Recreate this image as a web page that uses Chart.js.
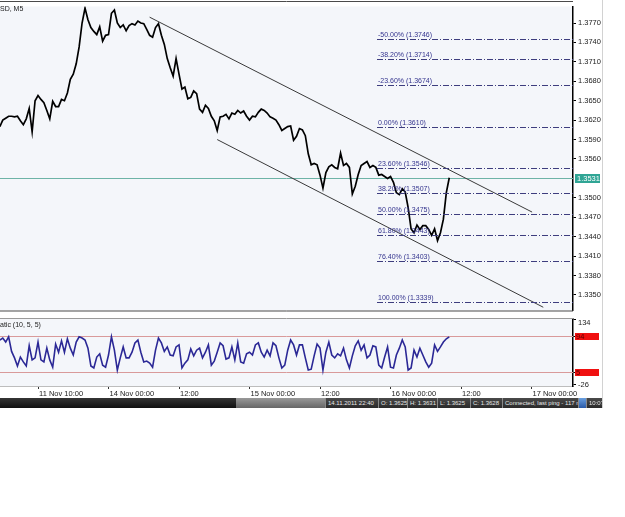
<!DOCTYPE html>
<html>
<head>
<meta charset="utf-8">
<script src="https://cdn.jsdelivr.net/npm/chart.js@4"></script>
<style>
  body { margin: 0; background: #fff; font-family: "Liberation Sans", Arial, sans-serif; }
  #wrap { position: relative; width: 625px; height: 517px; overflow: hidden; }
  #main { position: absolute; left: 0; top: 0; }
  #stoch { position: absolute; left: 0; top: 317px; }
  #edge { position: absolute; left: 602px; top: 0; width: 1px; height: 408px; background: #d2d2d2; }
  .lbl { position: absolute; font-size: 7px; color: #222; white-space: nowrap; }
  #status { position: absolute; left: 0; top: 398px; width: 602px; height: 10px; }
  .seg { position: absolute; top: 0; height: 10px; font-size: 6px; line-height: 10px; color: #e6e6e6;
         white-space: nowrap; overflow: hidden; box-sizing: border-box; padding-left: 2px;
         background: linear-gradient(#4a4a4a, #2a2a2a); border-left: 1px solid #8a8a8a; }
</style>
</head>
<body>
<div id="wrap">
  <canvas id="main" width="625" height="317"></canvas>
  <canvas id="stoch" width="625" height="80"></canvas>
  <div id="edge"></div>
  <div class="lbl" style="left:0;top:5px;">SD, M5</div>
  <div class="lbl" style="left:0;top:321px;">atic (10, 5, 5)</div>
  <div id="status">
    <div class="seg" style="left:0;width:236px;border:none;background:linear-gradient(#353535,#101010);"></div>
    <div class="seg" style="left:236px;width:89px;border:none;background:linear-gradient(#999,#666);"></div>
    <div class="seg" style="left:325px;width:53px;">14.11.2011 22:40</div>
    <div class="seg" style="left:378px;width:29px;">O: 1.3625</div>
    <div class="seg" style="left:407px;width:30px;">H: 1.3631</div>
    <div class="seg" style="left:437px;width:33px;">L: 1.3625</div>
    <div class="seg" style="left:470px;width:32px;">C: 1.3628</div>
    <div class="seg" style="left:502px;width:76px;">Connected, last ping - 117 ms</div>
    <div class="seg" style="left:578px;width:8px;background:linear-gradient(#6aa0e0,#2a5aa8);"></div>
    <div class="seg" style="left:586px;width:16px;">10:07</div>
  </div>
</div>
<script>
// time axis in trading hours, 0 = 11 Nov 10:00, one label every 12h
const xTickHours = [0, 12, 24, 36, 48, 60, 72, 84];
const xTickLabels = ["11 Nov 10:00", "14 Nov 00:00", "12:00", "15 Nov 00:00", "12:00", "16 Nov 00:00", "12:00", "17 Nov 00:00"];
const xMin = -6.47, xMax = 91.06;

// closes every half hour starting at hour -6.5
const startHour = -6.5, stepHours = 0.5;
const close = [
  1.3610,1.3620,1.3623,1.3626,1.3626,1.3625,1.3626,1.3619,1.3613,1.3622,
  1.3638,1.3602,1.3650,1.3658,1.3652,1.3647,1.3635,1.3622,1.3649,1.3641,
  1.3641,1.3652,1.3650,1.3662,1.3683,1.3691,1.3707,1.3733,1.3770,1.3793,
  1.3775,1.3763,1.3757,1.3752,1.3764,1.3742,1.3751,1.3752,1.3785,1.3790,
  1.3770,1.3763,1.3767,1.3758,1.3766,1.3769,1.3767,1.3773,1.3770,1.3769,
  1.3760,1.3751,1.3748,1.3763,1.3769,1.3751,1.3737,1.3715,1.3701,1.3688,
  1.3715,1.3691,1.3668,1.3671,1.3653,1.3655,1.3665,1.3661,1.3637,1.3632,
  1.3643,1.3638,1.3626,1.3619,1.3604,1.3625,1.3626,1.3629,1.3622,1.3631,
  1.3629,1.3635,1.3631,1.3634,1.3626,1.3620,1.3626,1.3625,1.3632,1.3637,
  1.3635,1.3631,1.3625,1.3623,1.3620,1.3613,1.3604,1.3607,1.3610,1.3611,
  1.3589,1.3595,1.3607,1.3605,1.3596,1.3568,1.3551,1.3553,1.3551,1.3535,
  1.3515,1.3539,1.3548,1.3551,1.3547,1.3545,1.3569,1.3550,1.3553,1.3547,
  1.3506,1.3518,1.3536,1.3550,1.3553,1.3556,1.3547,1.3550,1.3547,1.3535,
  1.3536,1.3533,1.3530,1.3533,1.3524,1.3508,1.3505,1.3514,1.3509,1.3485,
  1.3452,1.3446,1.3458,1.3451,1.3457,1.3457,1.3451,1.3442,1.3452,1.3434,
  1.3446,1.3467,1.3508,1.3531
];

// stochastic main line, same time grid
const stoch = [
  84,89,79,92,56,40,20,42,30,20,
  70,35,40,79,35,30,64,35,17,74,
  54,82,54,87,64,47,79,92,89,84,
  64,20,15,42,50,22,17,47,92,59,
  10,40,67,40,40,54,77,84,54,30,
  32,27,17,59,89,77,56,67,47,45,
  67,72,15,27,35,62,45,59,64,40,
  54,72,22,32,54,77,70,37,40,67,
  35,77,30,27,50,54,47,72,77,54,
  42,59,45,77,70,40,15,22,59,84,
  72,47,72,72,40,10,12,45,74,64,
  10,54,79,47,40,50,45,64,35,15,
  45,70,82,59,72,40,47,70,67,22,
  15,42,67,17,15,47,64,84,67,10,
  15,59,42,64,47,30,17,27,72,56,
  67,79,87,92
];

const priceTicks = [1.3350,1.3380,1.3410,1.3440,1.3470,1.3500,1.3560,1.3590,1.3620,1.3650,1.3680,1.3710,1.3740,1.3770];
const currentPrice = 1.3531;

// fibonacci levels
const fibPercents = [-50, -38.2, -23.6, 0, 23.6, 38.2, 50, 61.8, 76.4, 100];
const fibPrices = [1.3746, 1.3714, 1.3674, 1.3610, 1.3546, 1.3507, 1.3475, 1.3443, 1.3403, 1.3339];
const fibStartHour = 57.7;

// channel lines (hour, price)
const upperChannel = [{x: 19.0, y: 1.3779}, {x: 84.1, y: 1.3478}];
const lowerChannel = [{x: 30.5, y: 1.3590}, {x: 86.0, y: 1.3331}];

const stochAxisTicks = [134, 94, 5, -26];
const stochLevels = [94, 5];

const FONT = "Liberation Sans";
const hours = close.map((c, i) => startHour + i * stepHours);

const panelBg = {
  id: "panelBg",
  beforeDraw(chart) {
    const {ctx, chartArea: a} = chart;
    ctx.save();
    ctx.fillStyle = "#f4f6fa";
    ctx.fillRect(a.left, a.top, a.right - a.left, a.bottom - a.top);
    ctx.restore();
  }
};

const mainDecor = {
  id: "mainDecor",
  beforeDatasetsDraw(chart) {
    const {ctx, chartArea: a, scales: {y}} = chart;
    const yy = Math.round(y.getPixelForValue(currentPrice)) + 0.5;
    ctx.save();
    ctx.strokeStyle = "#6db3a6";
    ctx.lineWidth = 1;
    ctx.beginPath(); ctx.moveTo(a.left, yy); ctx.lineTo(a.right, yy); ctx.stroke();
    ctx.restore();
  },
  afterDatasetsDraw(chart) {
    const {ctx, chartArea: a, scales: {x, y}} = chart;
    const x0 = x.getPixelForValue(fibStartHour);
    ctx.save();
    ctx.beginPath(); ctx.rect(a.left, a.top, a.right - a.left, a.bottom - a.top); ctx.clip();
    ctx.strokeStyle = "#3d3d7e";
    ctx.lineWidth = 1;
    ctx.setLineDash([6, 2, 1, 2]);
    ctx.font = "7px '" + FONT + "'";
    ctx.fillStyle = "#34348e";
    ctx.textBaseline = "bottom";
    fibPrices.forEach((p, i) => {
      const yy = Math.round(y.getPixelForValue(p)) + 0.5;
      ctx.beginPath(); ctx.moveTo(x0, yy); ctx.lineTo(a.right, yy); ctx.stroke();
      ctx.fillText(fibPercents[i].toFixed(2) + "% (" + p.toFixed(4) + ")", x0 + 1, yy - 1);
    });
    ctx.restore();
  },
  afterDraw(chart) {
    const {ctx, chartArea: a, scales: {y}} = chart;
    ctx.save();
    // panel frame
    ctx.strokeStyle = "#4a4a4a";
    ctx.lineWidth = 1;
    ctx.beginPath(); ctx.moveTo(0, 1.5); ctx.lineTo(a.right, 1.5); ctx.stroke();
    ctx.beginPath(); ctx.moveTo(0, a.bottom + 0.5); ctx.lineTo(a.right, a.bottom + 0.5); ctx.stroke();
    // current price box
    const yy = Math.round(y.getPixelForValue(currentPrice));
    ctx.fillStyle = "#30a595";
    ctx.fillRect(a.right + 2, yy - 4, 25, 9);
    ctx.fillStyle = "#fff";
    ctx.font = "7.5px '" + FONT + "'";
    ctx.textBaseline = "middle";
    ctx.fillText(currentPrice.toFixed(4), a.right + 4, yy + 0.5);
    ctx.restore();
  }
};

new Chart(document.getElementById("main"), {
  type: "line",
  data: {
    datasets: [
      {
        label: "EURUSD",
        data: close.map((c, i) => ({x: hours[i], y: c})),
        borderColor: "#000",
        borderWidth: 1.7,
        pointRadius: 0,
        tension: 0
      },
      {
        label: "upper",
        data: upperChannel,
        borderColor: "#3a3a3a",
        borderWidth: 1,
        pointRadius: 0
      },
      {
        label: "lower",
        data: lowerChannel,
        borderColor: "#3a3a3a",
        borderWidth: 1,
        pointRadius: 0
      }
    ]
  },
  options: {
    responsive: false,
    animation: false,
    layout: {padding: {left: 0, right: 0, top: 3, bottom: 1}},
    plugins: {legend: {display: false}, tooltip: {enabled: false}},
    scales: {
      x: {type: "linear", min: xMin, max: xMax, display: false},
      y: {
        position: "right",
        min: 1.3326,
        max: 1.37955,
        afterBuildTicks: s => { s.ticks = priceTicks.map(v => ({value: v})); },
        afterFit: s => { s.width = 52; },
        ticks: {
          autoSkip: false,
          padding: 2,
          color: "#222",
          font: {family: FONT, size: 7.5},
          callback: v => v.toFixed(4)
        },
        grid: {drawOnChartArea: false, drawTicks: true, tickLength: 3, color: "#000"},
        border: {display: true, color: "#000", width: 1.5}
      }
    }
  },
  plugins: [panelBg, mainDecor]
});

const stochDecor = {
  id: "stochDecor",
  beforeDatasetsDraw(chart) {
    const {ctx, chartArea: a, scales: {y}} = chart;
    ctx.save();
    ctx.strokeStyle = "#d99a9a";
    ctx.lineWidth = 1;
    stochLevels.forEach(v => {
      const yy = Math.round(y.getPixelForValue(v)) + 0.5;
      ctx.beginPath(); ctx.moveTo(a.left, yy); ctx.lineTo(a.right, yy); ctx.stroke();
    });
    ctx.restore();
  },
  afterDraw(chart) {
    const {ctx, chartArea: a, scales: {y}} = chart;
    ctx.save();
    ctx.strokeStyle = "#9a9a9a";
    ctx.lineWidth = 1;
    ctx.beginPath(); ctx.moveTo(0, a.top - 0.5); ctx.lineTo(a.right, a.top - 0.5); ctx.stroke();
    ctx.font = "7.5px '" + FONT + "'";
    ctx.textBaseline = "middle";
    // axis labels: plain for the range ends, red boxes for the levels
    stochAxisTicks.forEach(v => {
      let yy = Math.round(y.getPixelForValue(v));
      if (stochLevels.includes(v)) {
        ctx.fillStyle = "#f01010";
        ctx.fillRect(a.right + 2, yy - 3, 24, 7);
        ctx.fillStyle = "#5a0000";
        ctx.fillText(String(v), a.right + 3, yy + 0.5);
      } else {
        yy = Math.min(Math.max(yy, a.top + 3), a.bottom - 2);
        ctx.fillStyle = "#222";
        ctx.fillText(String(v), a.right + 5, yy + 0.5);
      }
    });
    ctx.restore();
  }
};

new Chart(document.getElementById("stoch"), {
  type: "line",
  data: {
    datasets: [{
      label: "Stochastic",
      data: stoch.map((v, i) => ({x: hours[i], y: v})),
      borderColor: "#2b2896",
      borderWidth: 1.6,
      pointRadius: 0,
      tension: 0
    }]
  },
  options: {
    responsive: false,
    animation: false,
    layout: {padding: {left: 0, right: 0, top: 2, bottom: 0}},
    plugins: {legend: {display: false}, tooltip: {enabled: false}},
    scales: {
      x: {
        type: "linear",
        min: xMin,
        max: xMax,
        afterBuildTicks: s => { s.ticks = xTickHours.map(v => ({value: v})); },
        afterFit: s => { s.height = 11; },
        ticks: {
          autoSkip: false,
          maxRotation: 0,
          align: "start",
          labelOffset: 1,
          padding: 0,
          color: "#222",
          font: {family: FONT, size: 7.5},
          callback: (v, i) => xTickLabels[i]
        },
        grid: {drawOnChartArea: false, drawTicks: true, tickLength: 3, color: "#333"},
        border: {display: true, color: "#bdbdbd", width: 1}
      },
      y: {
        position: "right",
        min: -29.5,
        max: 136,
        afterBuildTicks: s => { s.ticks = stochAxisTicks.map(v => ({value: v})); },
        afterFit: s => { s.width = 52; },
        ticks: {display: false},
        grid: {drawOnChartArea: false, drawTicks: true, tickLength: 3, color: "#000"},
        border: {display: true, color: "#000", width: 1.5}
      }
    }
  },
  plugins: [panelBg, stochDecor]
});
</script>
</body>
</html>
